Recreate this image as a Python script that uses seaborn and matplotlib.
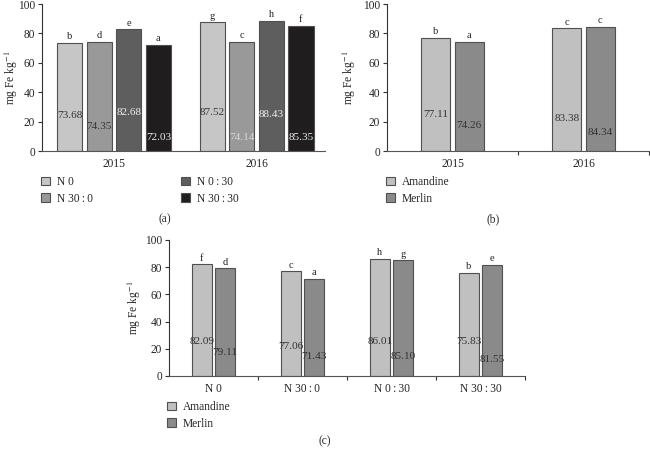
import numpy as np
import pandas as pd
import matplotlib.pyplot as plt
import seaborn as sns

# (a) treatment x year
years = ['2015', '2016']
treatments = ['N 0', 'N 30\u2009:\u20090', 'N 0\u2009:\u200930', 'N 30\u2009:\u200930']
fe_2015_treat = [73.68, 74.35, 82.68, 72.03]
fe_2016_treat = [87.52, 74.14, 88.43, 85.35]
letters_2015_treat = ['b', 'd', 'e', 'a']
letters_2016_treat = ['g', 'c', 'h', 'f']

# (b) cultivar x year
cultivars = ['Amandine', 'Merlin']
fe_amandine_year = [77.11, 83.38]
fe_merlin_year = [74.26, 84.34]
letters_amandine_year = ['b', 'c']
letters_merlin_year = ['a', 'c']

# (c) cultivar x treatment
fe_amandine_treat = [82.09, 77.06, 86.01, 75.83]
fe_merlin_treat = [79.11, 71.43, 85.10, 81.55]
letters_amandine_treat = ['f', 'c', 'h', 'b']
letters_merlin_treat = ['d', 'a', 'g', 'e']

sns.set_style('ticks')
plt.rcParams['font.family'] = ['Liberation Serif', 'DejaVu Serif']
plt.rcParams['mathtext.fontset'] = 'stix'

FS = 8.3
EDGE = '#505050'
YLAB = 'mg Fe kg$^{-1}$'


def draw_panel(ax, df, x, hue, order, hue_order, palette, width, gap,
               letters, label_y, label_colors, ylab_x):
    sns.barplot(data=df, x=x, y='fe', hue=hue, order=order, hue_order=hue_order,
                palette=palette, width=width, gap=gap, edgecolor=EDGE,
                linewidth=0.8, saturation=1, ax=ax)
    for h, cont in enumerate(ax.containers):
        for i, bar in enumerate(cont):
            cx = bar.get_x() + bar.get_width() / 2
            top = bar.get_height()
            ax.text(cx, top + 1.2, letters[h][i], ha='center', va='bottom',
                    fontsize=FS - 0.8, color='#222222')
            ax.text(cx, label_y[h][i], f'{top:.2f}', ha='center', va='center',
                    fontsize=FS - 0.2, color=label_colors[h][i])
    ax.set_ylim(0, 100)
    ax.set_yticks([0, 20, 40, 60, 80, 100])
    ax.set_xlabel('')
    ax.set_ylabel(YLAB, fontsize=FS)
    ax.yaxis.set_label_coords(ylab_x, 0.5)
    ax.tick_params(axis='y', labelsize=FS, length=3, width=0.8, color='#333333', pad=2)
    ax.tick_params(axis='x', labelsize=FS, length=0, pad=5)
    for s in ['top', 'right']:
        ax.spines[s].set_visible(False)
    ax.spines['left'].set_color('#333333')
    ax.spines['bottom'].set_color('#555555')
    ax.spines['left'].set_linewidth(0.8)
    ax.spines['bottom'].set_linewidth(0.8)
    handles, labels = ax.get_legend_handles_labels()
    if ax.get_legend() is not None:
        ax.get_legend().remove()
    return handles, labels


fig = plt.figure(figsize=(6.5, 4.49), dpi=100)

# panel (a)
df_a = pd.DataFrame({
    'year': np.repeat(years, len(treatments)),
    'treatment': treatments * len(years),
    'fe': fe_2015_treat + fe_2016_treat,
})
ax_a = fig.add_axes([42 / 650, 1 - 151 / 449, 283 / 650, 147 / 449])
pal_a = ['#c6c6c6', '#999999', '#5e5e5e', '#1f1d1e']
letters_a = [[letters_2015_treat[k], letters_2016_treat[k]] for k in range(4)]
label_y_a = [[24, 26], [16.5, 9], [26, 25], [9, 9]]
label_c_a = [['#333333', '#333333'], ['#333333', '#d8d8d8'],
             ['#eeeeee', '#eeeeee'], ['#eeeeee', '#eeeeee']]
h, l = draw_panel(ax_a, df_a, 'year', 'treatment', years, treatments, pal_a,
                  0.83, 0.15, letters_a, label_y_a, label_c_a, -0.078)
ax_a.set_xlim(-0.505, 1.48)
fig.legend(h, l, loc='upper left', bbox_to_anchor=(41 / 650, 1 - 176 / 449),
           ncol=2, frameon=False, fontsize=FS, handlelength=0.8,
           handleheight=0.8, handletextpad=0.6, columnspacing=7.6,
           labelspacing=0.4, borderaxespad=0, borderpad=0)
fig.text(165 / 650, 1 - 219 / 449, '(a)', ha='center', va='center', fontsize=FS)

# panel (b)
df_b = pd.DataFrame({
    'year': years * len(cultivars),
    'cultivar': np.repeat(cultivars, len(years)),
    'fe': fe_amandine_year + fe_merlin_year,
})
ax_b = fig.add_axes([387 / 650, 1 - 151 / 449, 262 / 650, 147 / 449])
pal_cv = ['#c0c0c0', '#8a8a8a']
letters_b = [letters_amandine_year, letters_merlin_year]
label_y_b = [[24.5, 22], [17.5, 12.5]]
label_c_b = [['#333333', '#333333'], ['#333333', '#333333']]
h, l = draw_panel(ax_b, df_b, 'year', 'cultivar', years, cultivars, pal_cv,
                  0.51, 0.13, letters_b, label_y_b, label_c_b, -0.11)
ax_b.set_xlim(-0.5, 1.5)
ax_b.set_xticks([0.5, 1.5], minor=True)
ax_b.tick_params(axis='x', which='minor', length=3, width=0.8, color='#333333')
fig.legend(h, l, loc='upper left', bbox_to_anchor=(386 / 650, 1 - 176 / 449),
           ncol=1, frameon=False, fontsize=FS, handlelength=0.8,
           handleheight=0.8, handletextpad=0.6, labelspacing=0.4,
           borderaxespad=0, borderpad=0)
fig.text(493 / 650, 1 - 219 / 449, '(b)', ha='center', va='center', fontsize=FS)

# panel (c)
df_c = pd.DataFrame({
    'treatment': treatments * len(cultivars),
    'cultivar': np.repeat(cultivars, len(treatments)),
    'fe': fe_amandine_treat + fe_merlin_treat,
})
ax_c = fig.add_axes([169 / 650, 1 - 376 / 449, 356 / 650, 136 / 449])
letters_c = [letters_amandine_treat, letters_merlin_treat]
label_y_c = [[25.5, 22, 25, 25], [17, 14, 14, 12]]
label_c_c = [['#333333'] * 4, ['#333333'] * 4]
h, l = draw_panel(ax_c, df_c, 'treatment', 'cultivar', treatments, cultivars, pal_cv,
                  0.52, 0.12, letters_c, label_y_c, label_c_c, -0.073)
ax_c.set_xlim(-0.5, 3.5)
ax_c.set_xticks([0.5, 1.5, 2.5, 3.5], minor=True)
ax_c.tick_params(axis='x', which='minor', length=3, width=0.8, color='#333333')
fig.legend(h, l, loc='upper left', bbox_to_anchor=(167 / 650, 1 - 401 / 449),
           ncol=1, frameon=False, fontsize=FS, handlelength=0.8,
           handleheight=0.8, handletextpad=0.6, labelspacing=0.4,
           borderaxespad=0, borderpad=0)
fig.text(325 / 650, 1 - 441 / 449, '(c)', ha='center', va='center', fontsize=FS)

fig.savefig('out.png', dpi=100)
